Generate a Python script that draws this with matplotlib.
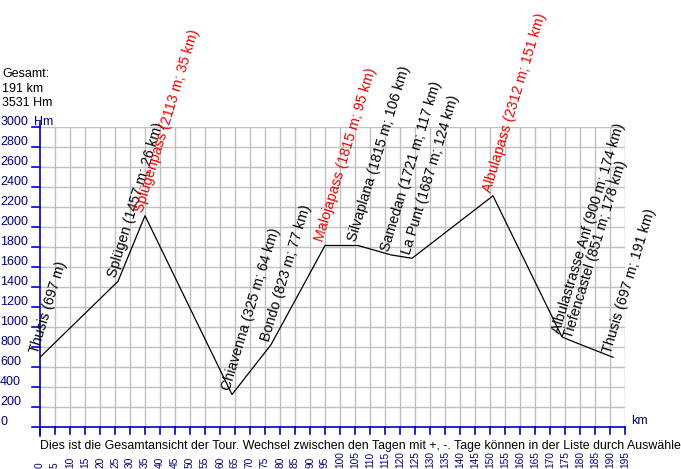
import matplotlib
matplotlib.use("Agg")
import matplotlib.pyplot as plt

plt.rcParams['font.family'] = ['Liberation Sans', 'DejaVu Sans']

places = ["Thusis", "Splügen", "Splügenpass", "Chiavenna", "Bondo", "Malojapass",
          "Silvaplana", "Samedan", "La Punt", "Albulapass", "Albulastrasse Anf",
          "Tiefencastel", "Thusis"]
km = [0, 26, 35, 64, 77, 95, 106, 117, 124, 151, 174, 178, 191]
elev = [697, 1457, 2113, 325, 823, 1815, 1815, 1721, 1687, 2312, 900, 851, 697]
is_pass = [False, False, True, False, False, True, False, False, False, True, False, False, False]

x_ticks = list(range(0, 200, 5))
y_ticks = list(range(0, 3001, 200))

W, H = 681, 469
fig = plt.figure(figsize=(W / 100, H / 100), dpi=100)
fig.patch.set_facecolor('white')

x0, x1, ytop, ybot = 40, 625, 127, 427
ax = fig.add_axes([x0 / W, 1 - ybot / H, (x1 - x0) / W, (ybot - ytop) / H])
ax.set_xlim(0, 195)
ax.set_ylim(0, 3000)
ax.axis('off')

grid_c = '#c0c0c0'
for xv in x_ticks[1:]:
    ax.plot([xv, xv], [0, 3000], color=grid_c, lw=1, zorder=1)
for yv in range(200, 3001, 200):
    ax.plot([0, 195], [yv, yv], color=grid_c, lw=1, zorder=1)

axis_c = '#0000cc'
lab_c = '#000080'
# axes lines
ax.plot([0, 195], [0, 0], color=axis_c, lw=1.2, clip_on=False, zorder=3)
ax.plot([0, 0], [-90, 3050], color=axis_c, lw=1.2, clip_on=False, zorder=3)
for xv in x_ticks:
    ax.plot([xv, xv], [0, -65], color=axis_c, lw=1.2, clip_on=False, zorder=3)
    ax.text(xv, -405, str(xv), rotation=90, ha='center', va='bottom',
            fontsize=7.3, color=lab_c, clip_on=False)
for yv in y_ticks:
    ax.plot([-2.7, 0], [yv, yv], color=axis_c, lw=1.2, clip_on=False, zorder=3)
    ax.text(-13.3, yv + 50, str(yv), ha='left', va='center', fontsize=9,
            color=lab_c, clip_on=False)
ax.text(-2.0, 3050, "Hm", ha='left', va='center', fontsize=9, color=lab_c, clip_on=False)
ax.text(197, 60, "km", ha='left', va='center', fontsize=9, color=lab_c, clip_on=False)

ax.text(0, -220, "Dies ist die Gesamtansicht der Tour. Wechsel zwischen den Tagen mit +, -. "
        "Tage können in der Liste durch Auswählen", ha='left', va='baseline',
        fontsize=8.9, color='black', clip_on=False)

fig.text(2 / W, 1 - 88.5 / H, "Gesamt:\n191 km\n3531 Hm", ha='left', va='center',
         fontsize=9, color='black', linespacing=1.25)

ax.plot(km, elev, color='black', lw=0.9, zorder=4)

for i, (p, k, e) in enumerate(zip(places, km, elev)):
    if i == 0:
        s = f"{p} ({e} m)"
    else:
        s = f"{p} ({e} m; {k} km)"
    col = '#ee0000' if is_pass[i] else 'black'
    ax.annotate(s, xy=(k, e), xytext=(-2, 3), textcoords='offset pixels',
                rotation=73, rotation_mode='anchor', ha='left', va='baseline',
                fontsize=10.3, color=col, annotation_clip=False, zorder=5)

fig.savefig("out.png", dpi=100, facecolor='white')
